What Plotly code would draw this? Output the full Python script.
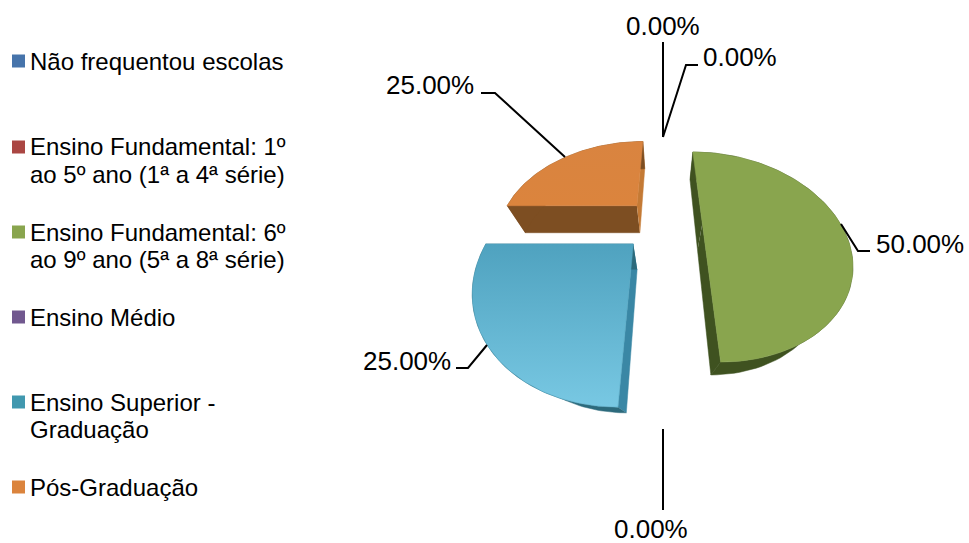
import numpy as np
import plotly.graph_objects as go

categories = ["Não frequentou escolas",
              "Ensino Fundamental: 1º<br>ao 5º ano (1ª a 4ª série)",
              "Ensino Fundamental: 6º<br>ao 9º ano (5ª a 8ª série)",
              "Ensino Médio",
              "Ensino Superior -<br>Graduação",
              "Pós-Graduação"]
values = [0, 0, 50, 0, 25, 25]
colors = ["#4674AB", "#AA4643", "#89A54E", "#71588F", "#4198AF", "#DB843D"]
side_arc = ["#2F4D72", "#72302D", "#3F5220", "#4C3B60", "#2C6A7C", "#7D4E22"]
side_start = ["#2F4D72", "#72302D", "#3F5220", "#4C3B60", "#3A87A5", "#7D4E22"]
side_end = ["#2F4D72", "#72302D", "#3F5220", "#4C3B60", "#2C6A7C", "#C47A35"]
grad_top = ["#4674AB", "#AA4643", "#89A54E", "#71588F", "#4FA2BF", "#D98440"]
grad_bottom = ["#4674AB", "#AA4643", "#89A54E", "#71588F", "#78C8E3", "#DB843D"]
legend_line_y = [[61], [146, 174], [232, 259], [317], [402, 429], [487]]
legend_mark_y = [61, 147, 232, 317, 402, 487]
label_xy = [(663, 26), (740, 57), (920, 244), (651, 529), (407, 361), (430, 85)]
label_order = [0, 1, 2, 3, 4, 5]
leaders = [
    ([663, 663], [42, 137]),
    ([663, 686, 698], [137, 65, 65]),
    ([841, 858, 870], [224, 251, 251]),
    ([663, 663], [429, 510]),
    ([487, 468, 456], [345, 368, 368]),
    ([481, 495, 565], [93, 93, 157]),
]

CX, CY, A, B, P, Q, C, EXPLODE = 663, 223.6, 138, 94.4, 0.318, 0.14, 30, 0.285


def project(X, Y, z=0.0):
    w = 1 + P * Y + Q * z
    return CX + A * X / w, CY + (-B * Y + C * z) / w


def quad(fig, xs, ys, color):
    fig.add_trace(go.Scatter(x=list(xs), y=list(ys), mode="lines", fill="toself",
                             fillcolor=color, line=dict(color=color, width=0.5),
                             hoverinfo="skip", showlegend=False))


fig = go.Figure()
total = sum(values)
edges = np.cumsum([0] + values) / total * 2 * np.pi
tops = []
for i, v in enumerate(values):
    if v == 0:
        continue
    t0, t1 = edges[i], edges[i + 1]
    mid = (t0 + t1) / 2
    ox, oy = EXPLODE * np.sin(mid), EXPLODE * np.cos(mid)
    th = np.linspace(t0, t1, 90)
    X = np.concatenate([[ox], ox + np.sin(th), [ox]])
    Y = np.concatenate([[oy], oy + np.cos(th), [oy]])
    xt, yt = project(X, Y)
    xb, yb = project(X, Y, 1.0)
    # radial faces and the rim, drawn behind the top face
    quad(fig, [xt[0], xt[1], xb[1], xb[0]], [yt[0], yt[1], yb[1], yb[0]], side_start[i])
    quad(fig, [xt[0], xt[-2], xb[-2], xb[0]], [yt[0], yt[-2], yb[-2], yb[0]], side_end[i])
    quad(fig, np.r_[xt[1:-1], xb[1:-1][::-1]], np.r_[yt[1:-1], yb[1:-1][::-1]], side_arc[i])
    tops.append((i, xt, yt))

for i, xt, yt in tops:
    fig.add_trace(go.Scatter(
        x=xt, y=yt, mode="lines", fill="toself", name=categories[i],
        fillgradient=dict(type="vertical",
                          colorscale=[[0, grad_bottom[i]], [1, grad_top[i]]]),
        line=dict(color=grad_top[i], width=0.5), hoverinfo="skip", showlegend=False))

for lx, ly in leaders:
    fig.add_trace(go.Scatter(x=lx, y=ly, mode="lines", line=dict(color="black", width=2),
                             hoverinfo="skip", showlegend=False))

fig.add_trace(go.Scatter(x=[18.5] * 6, y=legend_mark_y, mode="markers",
                         marker=dict(symbol="square", size=13, color=colors),
                         hoverinfo="skip", showlegend=False))

FONT = "Liberation Sans, Arial, sans-serif"
annotations = []
for cat, ys in zip(categories, legend_line_y):
    for line, y in zip(cat.split("<br>"), ys):
        annotations.append(dict(x=28, y=y, text=line, xanchor="left", yanchor="middle",
                                showarrow=False, font=dict(family=FONT, size=24, color="black")))
for i in label_order:
    x, y = label_xy[i]
    annotations.append(dict(x=x, y=y, text=f"{values[i] / total * 100:.2f}%", xanchor="center",
                            yanchor="middle", showarrow=False,
                            font=dict(family=FONT, size=26, color="black")))

fig.update_layout(
    width=969, height=543, autosize=False, showlegend=False,
    margin=dict(l=0, r=0, t=0, b=0),
    paper_bgcolor="white", plot_bgcolor="white",
    xaxis=dict(range=[0, 969], visible=False, fixedrange=True),
    yaxis=dict(range=[543, 0], visible=False, fixedrange=True),
    annotations=annotations,
)
fig.write_html("out.html", config={"displayModeBar": False},
               post_script="document.body.style.margin='0';document.body.style.overflow='hidden';")
